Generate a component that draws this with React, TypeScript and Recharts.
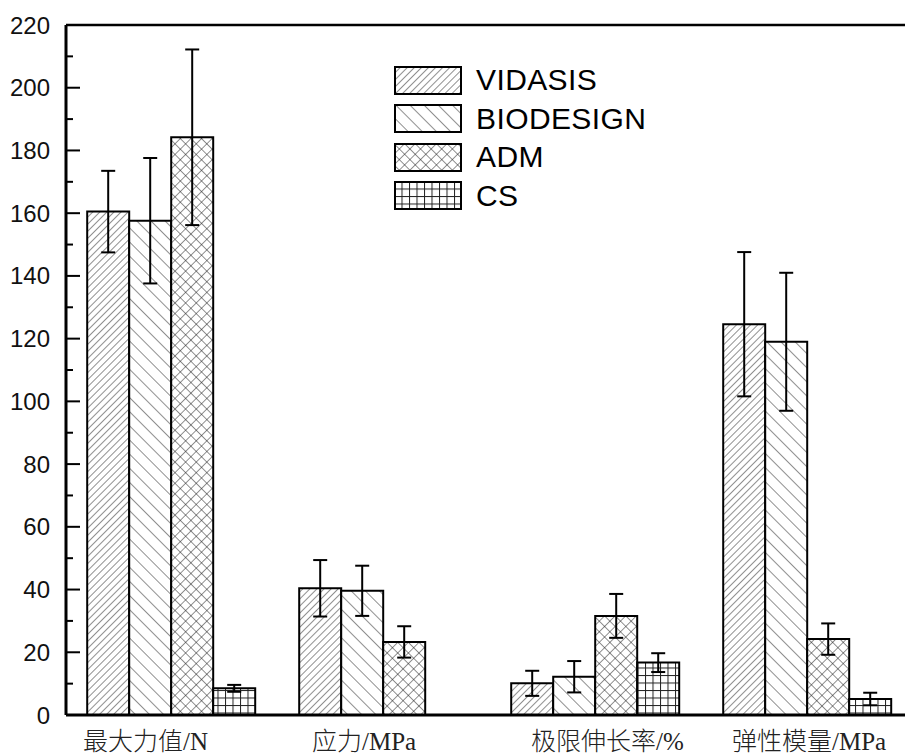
import React from 'react';
import { BarChart, Bar, XAxis, YAxis, ErrorBar, ReferenceLine, Legend } from 'recharts';

// Mechanical properties of four membrane materials
const categories = ['最大力值/N', '应力/MPa', '极限伸长率/%', '弹性模量/MPa'];
const seriesNames = ['VIDASIS', 'BIODESIGN', 'ADM', 'CS'];

const vidasis = [160.5, 40.4, 10.1, 124.6];
const vidasisErr = [13, 9, 4, 23];
const biodesign = [157.6, 39.6, 12.2, 119];
const biodesignErr = [20, 8, 5, 22];
const adm = [184.2, 23.3, 31.6, 24.2];
const admErr = [28, 5, 7, 5];
const cs = [8.5, null, 16.7, 5.1];
const csErr = [1.1, null, 3, 2];

const yTicks = [0, 10, 20, 30, 40, 50, 60, 70, 80, 90, 100, 110, 120, 130, 140, 150, 160, 170, 180, 190, 200, 210, 220];

const data = categories.map((name, i) => ({
  name,
  vidasis: vidasis[i],
  vidasisErr: vidasisErr[i],
  biodesign: biodesign[i],
  biodesignErr: biodesignErr[i],
  adm: adm[i],
  admErr: admErr[i],
  cs: cs[i],
  csErr: csErr[i],
}));

const patternIds = ['hatchVidasis', 'hatchBiodesign', 'hatchAdm', 'hatchCs'];
const HATCH = '#222';

const PatternDefs = ({ prefix }: { prefix: string }) => (
  <defs>
    <pattern id={prefix + patternIds[0]} patternUnits="userSpaceOnUse" width={5} height={5} patternTransform="rotate(45)">
      <rect width={5} height={5} fill="#fff" />
      <line x1={0} y1={0} x2={0} y2={5} stroke={HATCH} strokeWidth={1} />
    </pattern>
    <pattern id={prefix + patternIds[1]} patternUnits="userSpaceOnUse" width={10} height={10} patternTransform="rotate(-45)">
      <rect width={10} height={10} fill="#fff" />
      <line x1={0} y1={0} x2={0} y2={10} stroke={HATCH} strokeWidth={1} />
    </pattern>
    <pattern id={prefix + patternIds[2]} patternUnits="userSpaceOnUse" width={7.5} height={7.5} patternTransform="rotate(45)">
      <rect width={7.5} height={7.5} fill="#fff" />
      <line x1={0} y1={0} x2={0} y2={7.5} stroke={HATCH} strokeWidth={1} />
      <line x1={0} y1={0} x2={7.5} y2={0} stroke={HATCH} strokeWidth={1} />
    </pattern>
    <pattern id={prefix + patternIds[3]} patternUnits="userSpaceOnUse" width={7.5} height={7.5}>
      <rect width={7.5} height={7.5} fill="#fff" />
      <line x1={0.5} y1={0} x2={0.5} y2={7.5} stroke={HATCH} strokeWidth={1} />
      <line x1={0} y1={0.5} x2={7.5} y2={0.5} stroke={HATCH} strokeWidth={1} />
    </pattern>
  </defs>
);

const YTick = (props: any) => {
  const { x, y, payload } = props;
  const v = payload.value as number;
  const major = v % 20 === 0;
  return (
    <g>
      <line x1={x} x2={x + (major ? 14 : 7)} y1={y} y2={y} stroke="#000" strokeWidth={2} />
      {major && (
        <text
          x={x - 16}
          y={y}
          textAnchor="end"
          dominantBaseline="central"
          fontSize={24}
          fontFamily="'Liberation Sans', Arial, sans-serif"
          fill="#111"
        >
          {v}
        </text>
      )}
    </g>
  );
};

// left edge of each category label relative to its band centre
const labelShift = [-89, -72, -65, -76];

const XTick = (props: any) => {
  const { x, y, payload, index } = props;
  return (
    <text
      x={x + labelShift[index]}
      y={y + 35}
      textAnchor="start"
      fontSize={25}
      fontFamily="'Liberation Serif', 'Noto Sans CJK SC', serif"
      fontWeight={300}
      fill="#222"
    >
      {payload.value}
    </text>
  );
};

const LegendBox = () => (
  <div style={{ fontFamily: "'Liberation Sans', Arial, sans-serif" }}>
    {seriesNames.map((name, i) => (
      <div key={name} style={{ display: 'flex', alignItems: 'center', height: 38.5 }}>
        <svg width={68} height={29} style={{ display: 'block' }}>
          <PatternDefs prefix={'lg' + i} />
          <rect x={1} y={1} width={66} height={27} fill={`url(#lg${i}${patternIds[i]})`} stroke="#000" strokeWidth={2} />
        </svg>
        <span style={{ marginLeft: 14, fontSize: 30, letterSpacing: 0.4, color: '#000', lineHeight: '30px' }}>{name}</span>
      </div>
    ))}
  </div>
);

export default function App() {
  return (
    <div style={{ position: 'absolute', left: 0, top: 0, width: 905, height: 756, overflow: 'hidden', background: '#fff' }}>
      <BarChart
        width={914}
        height={756}
        data={data}
        margin={{ top: 25, right: 0, bottom: 0, left: 0 }}
        barCategoryGap="10%"
        barGap={0}
      >
        <PatternDefs prefix="" />
        <XAxis
          dataKey="name"
          height={41}
          tickLine={false}
          tickSize={0}
          tickMargin={0}
          interval={0}
          axisLine={{ stroke: '#000', strokeWidth: 3 }}
          tick={<XTick />}
        />
        <YAxis
          width={66}
          domain={[0, 220]}
          ticks={yTicks}
          interval={0}
          tickLine={false}
          tickSize={0}
          tickMargin={0}
          axisLine={{ stroke: '#000', strokeWidth: 3 }}
          tick={<YTick />}
        />
        <ReferenceLine y={220} stroke="#000" strokeWidth={2.5} />
        <Bar dataKey="vidasis" fill={`url(#${patternIds[0]})`} stroke="#000" strokeWidth={2} isAnimationActive={false}>
          <ErrorBar dataKey="vidasisErr" width={7} stroke="#000" strokeWidth={2} isAnimationActive={false} />
        </Bar>
        <Bar dataKey="biodesign" fill={`url(#${patternIds[1]})`} stroke="#000" strokeWidth={2} isAnimationActive={false}>
          <ErrorBar dataKey="biodesignErr" width={7} stroke="#000" strokeWidth={2} isAnimationActive={false} />
        </Bar>
        <Bar dataKey="adm" fill={`url(#${patternIds[2]})`} stroke="#000" strokeWidth={2} isAnimationActive={false}>
          <ErrorBar dataKey="admErr" width={7} stroke="#000" strokeWidth={2} isAnimationActive={false} />
        </Bar>
        <Bar dataKey="cs" fill={`url(#${patternIds[3]})`} stroke="#000" strokeWidth={2} isAnimationActive={false}>
          <ErrorBar dataKey="csErr" width={7} stroke="#000" strokeWidth={2} isAnimationActive={false} />
        </Bar>
        <Legend
          layout="horizontal"
          verticalAlign="middle"
          align="center"
          content={<LegendBox />}
          wrapperStyle={{ position: 'absolute', left: 394, top: 61, width: 320 }}
        />
      </BarChart>
    </div>
  );
}
